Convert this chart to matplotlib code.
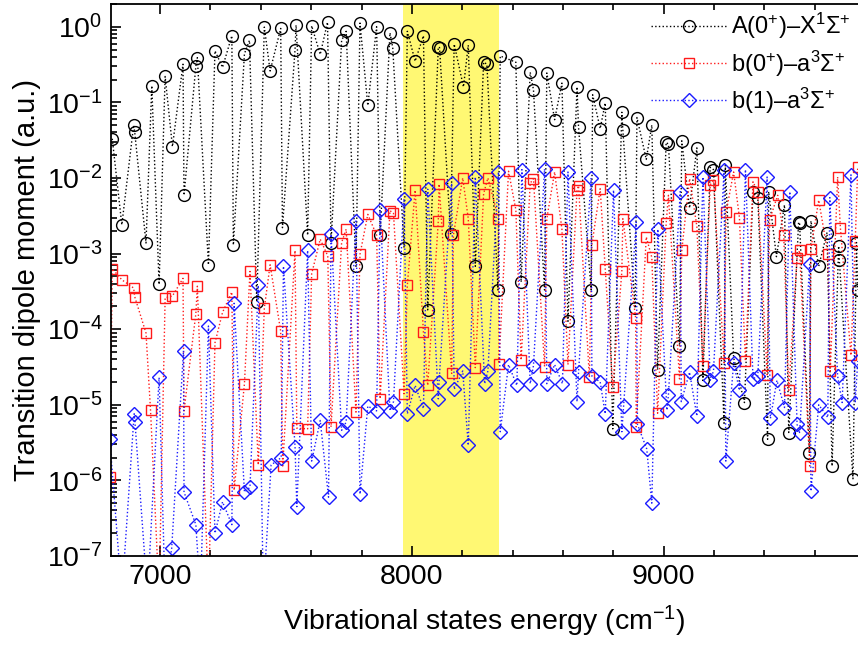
import numpy as np
import matplotlib.pyplot as plt
from matplotlib.ticker import MultipleLocator, LogLocator, NullFormatter

plt.rcParams['font.family'] = ['Liberation Sans', 'DejaVu Sans']
plt.rcParams['mathtext.fontset'] = 'custom'
plt.rcParams['mathtext.rm'] = 'Liberation Sans'
plt.rcParams['mathtext.it'] = 'Liberation Sans:italic'
plt.rcParams['mathtext.bf'] = 'Liberation Sans:bold'

# A(0+)-X1Sigma+ (cm-1 / a.u.)
black_x = [6810, 6848, 6895, 6899, 6944, 6967, 6996, 7020, 7049, 7091, 7095, 7142, 7148,
           7192, 7218, 7248, 7285, 7291, 7335, 7355, 7384, 7414, 7437, 7479, 7486, 7536,
           7540, 7586, 7602, 7636, 7665, 7679, 7721, 7739, 7778, 7794, 7825, 7860, 7874,
           7913, 7924, 7969, 7982, 8013, 8046, 8063, 8105, 8110, 8154, 8168, 8205, 8224,
           8252, 8285, 8298, 8342, 8351, 8413, 8434, 8470, 8483, 8527, 8536, 8567, 8596,
           8620, 8656, 8662, 8712, 8718, 8748, 8768, 8798, 8834, 8838, 8887, 8894, 8931,
           8953, 8976, 9010, 9019, 9063, 9072, 9103, 9132, 9156, 9185, 9198, 9240, 9245,
           9278, 9321, 9355, 9374, 9413, 9417, 9448, 9480, 9497, 9536, 9540, 9579, 9585,
           9616, 9649, 9669, 9695, 9698, 9752, 9766, 9771]
black_y = [0.033, 0.0024, 0.050, 0.041, 0.00138, 0.166, 3.9e-4, 0.22, 0.026, 0.32, 0.0059, 0.30, 0.39,
           7.1e-4, 0.48, 0.29, 0.76, 1.3e-3, 0.44, 0.66, 2.3e-4, 0.99, 0.26, 0.95, 2.2e-3, 0.50,
           1.05, 1.75e-3, 1.03, 0.43, 1.15, 1.4e-3, 0.66, 0.87, 6.8e-4, 1.12, 0.091, 1.0, 1.75e-3,
           0.83, 0.53, 1.2e-3, 0.87, 0.35, 0.76, 1.8e-4, 0.54, 0.53, 1.8e-3, 0.59, 0.16, 0.57,
           6.8e-4, 0.34, 0.32, 3.3e-4, 0.41, 0.34, 4.2e-4, 0.25, 0.147, 3.3e-4, 0.245, 0.059, 0.18,
           1.27e-4, 0.16, 0.047, 3.3e-4, 0.126, 0.045, 0.098, 4.8e-6, 0.074, 0.043, 1.9e-4, 0.063, 0.0176,
           0.050, 2.9e-5, 0.0295, 0.028, 6e-5, 0.031, 4e-3, 0.025, 2.1e-5, 0.0138, 0.0129, 5.7e-6, 0.0148,
           4.2e-5, 1.07e-5, 6.5e-3, 5.5e-3, 3.5e-6, 6.6e-3, 9.1e-4, 4.4e-3, 4.3e-6, 2.6e-3, 2.5e-3, 2.3e-6, 2.7e-3,
           6.8e-4, 1.9e-3, 1.55e-6, 1.26e-3, 8.1e-4, 1.05e-6, 1.4e-3, 3.3e-4]

# b(0+)-a3Sigma+
red_x = [6800, 6810, 6848, 6895, 6899, 6944, 6962, 6996, 7020, 7049, 7091, 7095, 7142, 7148,
         7192, 7218, 7248, 7285, 7294, 7335, 7357, 7390, 7414, 7437, 7479, 7487, 7536, 7543,
         7586, 7602, 7636, 7666, 7679, 7721, 7739, 7778, 7794, 7825, 7860, 7874, 7913, 7927,
         7969, 7982, 8013, 8046, 8063, 8105, 8108, 8158, 8165, 8202, 8224, 8252, 8285, 8302,
         8344, 8346, 8384, 8413, 8434, 8470, 8483, 8527, 8536, 8567, 8596, 8620, 8656, 8662,
         8705, 8715, 8748, 8768, 8798, 8834, 8838, 8889, 8891, 8931, 8953, 8976, 9010, 9019,
         9063, 9072, 9103, 9132, 9156, 9185, 9198, 9240, 9248, 9278, 9301, 9325, 9355, 9374,
         9411, 9421, 9453, 9477, 9497, 9530, 9540, 9580, 9585, 9616, 9652, 9662, 9691, 9702,
         9744, 9761, 9771]
red_y = [1.1e-6, 6.3e-4, 4.5e-4, 3.5e-4, 2.7e-4, 8.9e-5, 8.5e-6, 3e-8, 2.6e-4, 2.75e-4, 4.7e-4, 8.3e-6, 1.6e-4, 3.7e-4,
         3e-8, 6.6e-5, 1.67e-4, 3.1e-4, 7.4e-7, 1.9e-5, 5.8e-4, 1.6e-6, 1.9e-4, 7.1e-4, 9.4e-5, 1.55e-6, 1.1e-3, 4.9e-6,
         4.8e-6, 5.4e-4, 1.55e-3, 9.3e-4, 5.1e-6, 1.4e-3, 2.1e-3, 8e-6, 9.8e-4, 3.3e-3, 1.75e-3, 1.2e-5, 3.7e-3, 3.4e-3,
         1.4e-5, 3.8e-4, 6.9e-3, 9.1e-5, 1.8e-5, 2.7e-3, 8.3e-3, 2.6e-5, 1.75e-3, 0.01, 2.9e-3, 3.1e-5, 6.2e-3, 0.01,
         2.9e-3, 3.5e-5, 0.0123, 3.8e-3, 3.9e-5, 8.5e-3, 9.8e-3, 3.2e-5, 2.9e-3, 0.012, 2.1e-3, 3.4e-5, 6.9e-3, 7.9e-3,
         2.3e-5, 1.3e-3, 7.2e-3, 6.3e-4, 1.7e-5, 5.8e-4, 2.9e-3, 1.4e-4, 5.1e-6, 1.66e-3, 8.9e-4, 7.7e-6, 2.5e-3, 5.9e-3,
         2.2e-5, 1.1e-3, 9.8e-3, 2.3e-3, 3.3e-5, 8.1e-3, 9.3e-3, 3.6e-5, 3.5e-3, 0.012, 3e-3, 3.8e-5, 8.9e-3, 6.5e-3,
         2.5e-5, 2.8e-3, 5.9e-3, 1.75e-3, 1.55e-5, 8.7e-4, 1.1e-3, 1.55e-6, 1.16e-3, 5.1e-3, 1e-3, 2.8e-5, 0.0103, 2.2e-3,
         4.5e-5, 1.45e-3, 0.014]

# b(1)-a3Sigma+
blue_x = [6800, 6848, 6897, 6900, 6950, 6996, 7020, 7046, 7093, 7095, 7142, 7160, 7192, 7218,
          7248, 7285, 7294, 7335, 7357, 7390, 7410, 7441, 7481, 7490, 7536, 7543, 7586, 7602,
          7636, 7669, 7679, 7721, 7739, 7778, 7794, 7825, 7860, 7874, 7913, 7927, 7969, 7982,
          8013, 8046, 8063, 8105, 8108, 8158, 8168, 8202, 8224, 8252, 8289, 8302, 8344, 8351,
          8384, 8417, 8437, 8470, 8483, 8527, 8536, 8567, 8598, 8620, 8656, 8662, 8712, 8715,
          8748, 8768, 8801, 8834, 8841, 8891, 8896, 8933, 8953, 8977, 9013, 9019, 9066, 9070,
          9103, 9132, 9156, 9185, 9198, 9240, 9247, 9278, 9301, 9325, 9355, 9374, 9411, 9424,
          9450, 9480, 9501, 9530, 9540, 9580, 9585, 9616, 9652, 9660, 9691, 9709, 9744, 9761,
          9771]
blue_y = [3.5e-6, 3e-8, 7.6e-6, 6e-6, 3e-8, 2.3e-5, 3e-8, 1.26e-7, 5.2e-5, 7e-7, 2.6e-7, 3e-8, 1.1e-4, 2e-7,
          5.2e-7, 2.6e-7, 2.2e-4, 7e-7, 8.1e-7, 3.8e-4, 3e-8, 1.6e-6, 2e-6, 6.8e-4, 2.8e-6, 4.5e-7, 1.1e-3, 1.8e-6,
          6.2e-6, 6e-7, 1.8e-3, 4.6e-6, 5.9e-6, 2.7e-3, 6.6e-7, 9.6e-6, 8.3e-6, 3.8e-3, 8.3e-6, 1.1e-5, 5.3e-3, 7.6e-6,
          1.8e-5, 8.9e-6, 7.1e-3, 1.2e-5, 2e-5, 8.5e-3, 1.6e-5, 2.8e-5, 2.9e-6, 0.0103, 1.9e-5, 2.8e-5, 0.012, 4.4e-6,
          3.4e-5, 1.8e-5, 0.0129, 1.9e-5, 3.3e-5, 0.0131, 1.9e-5, 3.4e-5, 1.9e-5, 0.012, 1.1e-5, 2.7e-5, 0.01, 2.4e-5,
          2e-5, 7.6e-6, 6.9e-3, 4.4e-6, 9.6e-6, 2.6e-3, 5.5e-6, 2.6e-6, 5e-7, 2.1e-3, 8.5e-6, 1.35e-5, 6.6e-3, 1.1e-5,
          2.7e-5, 7.1e-6, 0.0103, 2.1e-5, 2.8e-5, 0.0126, 1.8e-6, 3.6e-5, 1.55e-5, 0.0129, 2.2e-5, 2.4e-5, 0.0103, 6.6e-6,
          2.1e-5, 9.2e-6, 6.6e-3, 5.5e-6, 4.3e-6, 7.2e-4, 7.2e-7, 1e-5, 6.8e-6, 5.5e-3, 2.4e-5, 1.07e-5, 0.011, 1.07e-5,
          3.8e-5]

band = (7965, 8347)
labels = ['A(0$^{+}$)–X$^{1}\\Sigma^{+}$', 'b(0$^{+}$)–a$^{3}\\Sigma^{+}$', 'b(1)–a$^{3}\\Sigma^{+}$']

fig = plt.figure(figsize=(8.58, 6.47), dpi=100)
ax = fig.add_axes([111/858, 91/647, 747/858, 552/647])

ax.axvspan(band[0], band[1], color='#fff873', zorder=0, lw=0)

ax.plot(black_x, black_y, ls=':', lw=1, color='black', marker='o', ms=8.5, mfc='none', mec='black', mew=1, label=labels[0])
ax.plot(red_x, red_y, ls=':', lw=1, color='#ff1a1a', marker='s', ms=7.5, mfc='none', mec='#ff1a1a', mew=1, label=labels[1])
ax.plot(blue_x, blue_y, ls=':', lw=1, color='#1a1aff', marker='D', ms=7, mfc='none', mec='#1a1aff', mew=1, label=labels[2])

ax.set_yscale('log')
ax.set_xlim(6805, 9772)
ax.set_ylim(1e-7, 2)
ax.xaxis.set_major_locator(MultipleLocator(1000))
ax.xaxis.set_minor_locator(MultipleLocator(200))
ax.yaxis.set_major_locator(LogLocator(base=10, numticks=20))
ax.yaxis.set_minor_locator(LogLocator(base=10, subs=np.arange(2, 10), numticks=20))
ax.yaxis.set_minor_formatter(NullFormatter())

ax.tick_params(which='both', direction='in', top=True, right=False, labelsize=20.5, width=1.2)
ax.tick_params(which='major', length=7, pad=6)
ax.tick_params(which='minor', length=4)
for s in ['left', 'bottom', 'top']:
    ax.spines[s].set_linewidth(1.3)
ax.spines['right'].set_visible(False)

ax.set_xlabel('Vibrational states energy (cm$^{-1}$)', fontsize=20.5, labelpad=10)
ax.set_ylabel('Transition dipole moment (a.u.)', fontsize=21, labelpad=4)

ax.legend(loc='upper right', frameon=False, fontsize=17, handlelength=3.2, handletextpad=0.2,
          labelspacing=0.3, borderaxespad=0.1, borderpad=0.2, numpoints=1)

plt.savefig('out.png', dpi=100)
